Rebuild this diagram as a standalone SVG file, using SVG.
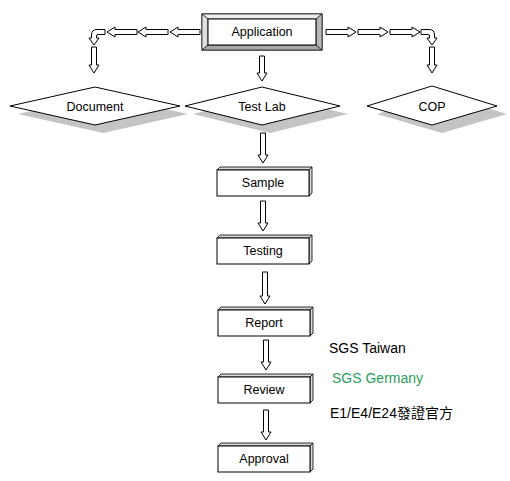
<svg xmlns="http://www.w3.org/2000/svg" width="510" height="481" viewBox="0 0 510 481">
<style>
.arr{fill:#fff;stroke:#000;stroke-width:1}
.dia{fill:#fff;stroke:#000;stroke-width:1}
.sh{fill:#c4c4c4;stroke:none}
.box{fill:#fff;stroke:#000;stroke-width:1}
.side{fill:#d8d8d8;stroke:#000;stroke-width:0.8}
.lbl{font-family:"Liberation Sans",Arial,sans-serif;font-size:12.5px;fill:#000;text-anchor:middle}
.note{font-family:"Liberation Sans",Arial,"Noto Sans CJK TC",sans-serif;font-size:14px;fill:#000}
</style>
<rect width="510" height="481" fill="#fff"/>
<g id="connectors">
  <polygon class="arr" points="200,29.5 178,29.5 178,27 170,32 178,37 178,34.5 200,34.5"/>
  <polygon class="arr" points="168,29.5 146,29.5 146,27 138,32 146,37 146,34.5 168,34.5"/>
  <polygon class="arr" points="137,29.5 115,29.5 115,27 107,32 115,37 115,34.5 137,34.5"/>
  <path class="arr" d="M105,29.5 L97,29.5 Q91.5,29.5 91.5,35 L91.5,38 L89,38 L94,45 L99,38 L96.5,38 L96.5,36 Q96.5,34.5 98,34.5 L105,34.5 Z"/>
  <polygon class="arr" points="91.5,47 96.5,47 96.5,65 99,65 94,73 89,65 91.5,65"/>
  <polygon class="arr" points="326,29.5 348,29.5 348,27 356,32 348,37 348,34.5 326,34.5"/>
  <polygon class="arr" points="358,29.5 380,29.5 380,27 388,32 380,37 380,34.5 358,34.5"/>
  <polygon class="arr" points="390,29.5 412,29.5 412,27 420,32 412,37 412,34.5 390,34.5"/>
  <path class="arr" d="M421,29.5 L429,29.5 Q434.5,29.5 434.5,35 L434.5,38 L437,38 L432,45 L427,38 L429.5,38 L429.5,36 Q429.5,34.5 428,34.5 L421,34.5 Z"/>
  <polygon class="arr" points="429.5,47 434.5,47 434.5,65 437,65 432,73 427,65 429.5,65"/>
  <polygon class="arr" points="259.5,56 264.5,56 264.5,73 267,73 262,81 257,73 259.5,73"/>
  <polygon class="arr" points="260.5,133 265.5,133 265.5,155 268,155 263,163 258,155 260.5,155"/>
  <polygon class="arr" points="260.5,201 265.5,201 265.5,223 268,223 263,231 258,223 260.5,223"/>
  <polygon class="arr" points="262.5,272 267.5,272 267.5,296 270,296 265,304 260,296 262.5,296"/>
  <polygon class="arr" points="263.5,340 268.5,340 268.5,362 271,362 266,370 261,362 263.5,362"/>
  <polygon class="arr" points="263.5,410 268.5,410 268.5,432 271,432 266,440 261,432 263.5,432"/>
</g>
<g id="application">
  <rect x="202" y="14" width="120" height="36" fill="#d8d8d8" stroke="#000"/>
  <polygon points="202,14 322,14 316,19 208,19" fill="#ececec" stroke="#000" stroke-width="0.6"/>
  <polygon points="202,14 208,19 208,45 202,50" fill="#e0e0e0" stroke="#000" stroke-width="0.6"/>
  <polygon points="202,50 208,45 316,45 322,50" fill="#a8a8a8" stroke="#000" stroke-width="0.6"/>
  <polygon points="322,14 316,19 316,45 322,50" fill="#b8b8b8" stroke="#000" stroke-width="0.6"/>
  <rect x="208" y="19" width="108" height="26" fill="#fff" stroke="#000"/>
  <text class="lbl" x="262" y="36">Application</text>
</g>
<g id="document">
  <polygon class="sh" points="18,114 103,95 188,114 103,133"/>
  <polygon class="dia" points="10,106 95,87 180,106 95,125"/>
  <text class="lbl" x="95" y="111">Document</text>
</g>
<g id="testlab">
  <polygon class="sh" points="193,114 270,95 348,114 270,133"/>
  <polygon class="dia" points="185,106 262,87 340,106 262,125"/>
  <text class="lbl" x="262" y="111">Test Lab</text>
</g>
<g id="cop">
  <polygon class="sh" points="377,114 442,94 507,114 442,133"/>
  <polygon class="dia" points="367,106 432,86 497,106 432,125"/>
  <text class="lbl" x="432" y="111">COP</text>
</g>
<g id="sample">
  <polygon class="side" points="217,170 220,167 312,167 309,170"/>
  <polygon class="side" points="309,170 312,167 312,193 309,196"/>
  <rect class="box" x="217" y="170" width="92" height="26"/>
  <text class="lbl" x="263" y="187">Sample</text>
</g>
<g id="testing">
  <polygon class="side" points="217,238 220,235 312,235 309,238"/>
  <polygon class="side" points="309,238 312,235 312,261 309,264"/>
  <rect class="box" x="217" y="238" width="92" height="26"/>
  <text class="lbl" x="263" y="255">Testing</text>
</g>
<g id="report">
  <polygon class="side" points="218,310 221,307 313,307 310,310"/>
  <polygon class="side" points="310,310 313,307 313,333 310,336"/>
  <rect class="box" x="218" y="310" width="92" height="26"/>
  <text class="lbl" x="264" y="327">Report</text>
</g>
<g id="review">
  <polygon class="side" points="218,377 221,374 313,374 310,377"/>
  <polygon class="side" points="310,377 313,374 313,400 310,403"/>
  <rect class="box" x="218" y="377" width="92" height="26"/>
  <text class="lbl" x="264" y="394">Review</text>
</g>
<g id="approval">
  <polygon class="side" points="218,446 221,443 313,443 310,446"/>
  <polygon class="side" points="310,446 313,443 313,469 310,472"/>
  <rect class="box" x="218" y="446" width="92" height="26"/>
  <text class="lbl" x="264" y="463">Approval</text>
</g>
<g id="notes">
  <text class="note" x="329" y="353">SGS Taiwan</text>
  <text class="note" x="332" y="383" style="fill:#2a9d5c">SGS Germany</text>
  <text class="note" x="330" y="418">E1/E4/E24發證官方</text>
</g>
</svg>
